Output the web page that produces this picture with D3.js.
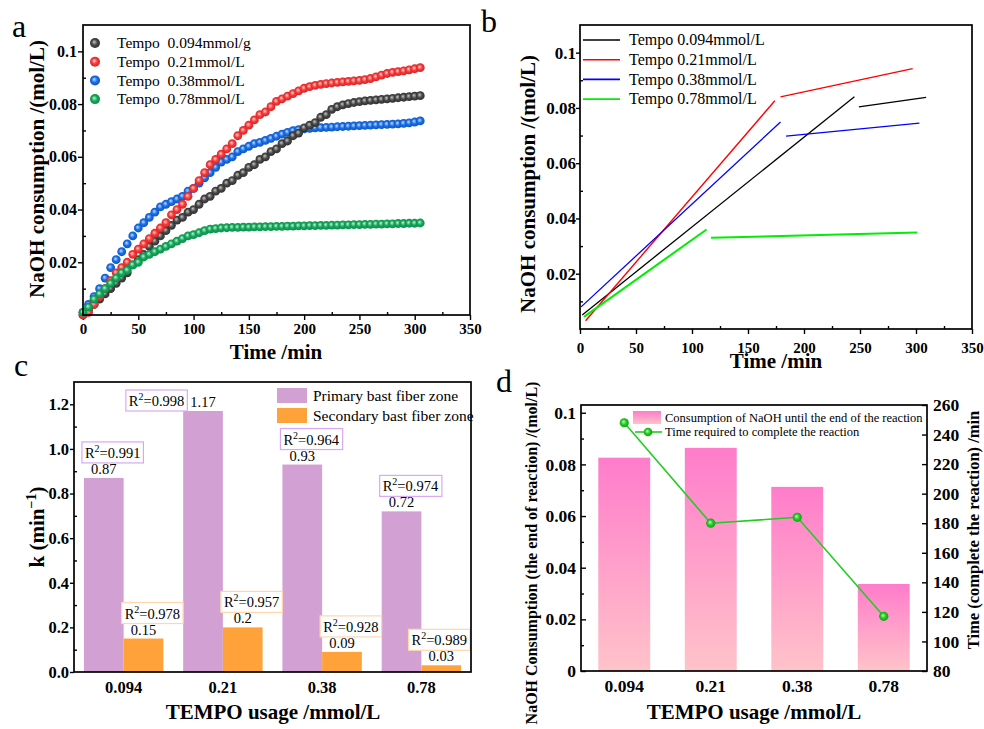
<!DOCTYPE html>
<html lang="en">
<head>
<meta charset="UTF-8">
<title>NaOH consumption</title>
<style>
  body { margin: 0; background: #fff; }
  svg { display: block; font-family: "Liberation Serif", "Times New Roman", serif; }
  .tick text { font-weight: bold; fill: #000; }
  .tick line { stroke: #000; stroke-width: 1.4; }
</style>
</head>
<body>
<svg width="984" height="729"></svg>
<script src="https://cdn.jsdelivr.net/npm/d3@7"></script>
<script>
// ---- panel a: measured NaOH consumption, one value every 5 min ----
const timeA = [0,5,10,15,20,25,30,35,40,45,50,55,60,65,70,75,80,85,90,95,
  100,105,110,115,120,125,130,135,140,145,150,155,160,165,170,175,180,185,190,195,
  200,205,210,215,220,225,230,235,240,245,250,255,260,265,270,275,280,285,290,295,300,305];
const blackA = [0.000,0.002,0.004,0.006,0.008,0.010,0.012,0.014,0.016,0.019,
  0.021,0.023,0.026,0.028,0.030,0.032,0.034,0.036,0.037,0.039,
  0.040,0.042,0.044,0.045,0.047,0.048,0.050,0.051,0.053,0.054,
  0.056,0.057,0.059,0.060,0.062,0.063,0.065,0.066,0.068,0.069,
  0.071,0.072,0.073,0.075,0.076,0.078,0.0790,0.0797,0.0802,0.0806,
  0.0809,0.0812,0.0814,0.0816,0.0818,0.0820,0.0822,0.0824,0.0826,0.0828,0.0830,0.0832];
const redA = [0.000,0.001,0.004,0.007,0.010,0.013,0.016,0.018,0.020,0.023,
  0.025,0.027,0.029,0.031,0.033,0.035,0.038,0.040,0.042,0.045,
  0.048,0.051,0.054,0.057,0.059,0.061,0.063,0.065,0.068,0.070,
  0.072,0.074,0.076,0.077,0.079,0.081,0.082,0.083,0.084,0.085,
  0.0860,0.0866,0.0871,0.0875,0.0878,0.0880,0.0882,0.0884,0.0886,0.0888,
  0.0890,0.0893,0.0897,0.0903,0.0910,0.0916,0.0920,0.0923,0.0926,0.0930,0.0934,0.0938];
const blueA = [0.001,0.004,0.007,0.010,0.014,0.018,0.021,0.024,0.027,0.030,
  0.033,0.035,0.037,0.039,0.041,0.042,0.043,0.044,0.045,0.047,
  0.048,0.050,0.052,0.054,0.056,0.058,0.059,0.060,0.062,0.063,
  0.0640,0.0650,0.0655,0.0662,0.0670,0.0678,0.0686,0.0693,0.0699,0.0703,
  0.0706,0.0708,0.0710,0.0711,0.0712,0.0713,0.0714,0.0715,0.0716,0.0717,
  0.0718,0.0719,0.0720,0.0721,0.0722,0.0723,0.0724,0.0725,0.0727,0.0729,0.0732,0.0736];
const greenA = [0.001,0.003,0.006,0.008,0.010,0.012,0.014,0.016,0.017,0.019,
  0.020,0.022,0.023,0.024,0.025,0.026,0.027,0.028,0.029,0.030,
  0.0305,0.0312,0.0320,0.0326,0.0328,0.0330,0.0331,0.0332,0.0332,0.0333,
  0.0333,0.0334,0.0334,0.0335,0.0335,0.0336,0.0336,0.0337,0.0337,0.0338,
  0.0338,0.0339,0.0339,0.0340,0.0340,0.0341,0.0341,0.0342,0.0342,0.0343,
  0.0343,0.0344,0.0344,0.0345,0.0345,0.0346,0.0346,0.0347,0.0347,0.0348,0.0348,0.0349];
const legendA = ["Tempo  0.094mmol/g", "Tempo  0.21mmol/L", "Tempo  0.38mmol/L", "Tempo  0.78mmol/L"];

// ---- panel b: two fitted segments per run, [time, NaOH] end points ----
const fitBlack = [[[2, 0.0051], [245, 0.0840]], [[249, 0.0804], [309, 0.0838]]];
const fitRed   = [[[5, 0.0030], [174, 0.0826]], [[179, 0.0840], [297, 0.0942]]];
const fitBlue  = [[[1, 0.0080], [179, 0.0749]], [[184, 0.0698], [303, 0.0745]]];
const fitGreen = [[[3.5, 0.0044], [113, 0.0360]], [[117, 0.0330], [301, 0.0349]]];
const legendB = ["Tempo 0.094mmol/L", "Tempo 0.21mmol/L", "Tempo 0.38mmol/L", "Tempo 0.78mmol/L"];

// ---- panel c: rate constants ----
const tempo = ["0.094", "0.21", "0.38", "0.78"];
const primaryK = [0.87, 1.17, 0.93, 0.72];
const secondaryK = [0.15, 0.2, 0.09, 0.03];
const primaryR2 = ["0.991", "0.998", "0.964", "0.974"];
const secondaryR2 = ["0.978", "0.957", "0.928", "0.989"];

// ---- panel d: end of reaction ----
const consumption = [0.0826, 0.0864, 0.0713, 0.0337];
const finishTime = [248, 180, 184, 117];

// tick values
const ticksTime = [0, 50, 100, 150, 200, 250, 300, 350];
const minorTime = [25, 75, 125, 175, 225, 275, 325];
const ticksNaOH = [0.02, 0.04, 0.06, 0.08, 0.1];
const minorNaOH = [0.01, 0.03, 0.05, 0.07, 0.09];
const ticksK = [0, 0.2, 0.4, 0.6, 0.8, 1.0, 1.2];
const minorK = [0.1, 0.3, 0.5, 0.7, 0.9, 1.1];
const ticksD = [0, 0.02, 0.04, 0.06, 0.08, 0.1];
const minorD = [0.01, 0.03, 0.05, 0.07, 0.09];
const ticksMin = [80, 100, 120, 140, 160, 180, 200, 220, 240, 260];

const svg = d3.select("svg");
const defs = svg.append("defs");
const naohFmt = v => v === 0 ? "0" : (v === 0.1 ? "0.1" : d3.format(".2f")(v));

function sphere(id, light, main, dark) {
  const g = defs.append("radialGradient").attr("id", id)
    .attr("cx", "50%").attr("cy", "50%").attr("r", "55%")
    .attr("fx", "40%").attr("fy", "38%");
  g.append("stop").attr("offset", "0%").attr("stop-color", light);
  g.append("stop").attr("offset", "50%").attr("stop-color", main);
  g.append("stop").attr("offset", "100%").attr("stop-color", dark);
}
sphere("sBlack", "#c8c8c8", "#4a4a4a", "#2a2a2a");
sphere("sRed", "#ffd0d0", "#f43c3c", "#d81c1c");
sphere("sBlue", "#c4dcff", "#1a6fe6", "#0a50c0");
sphere("sGreen", "#c6f2d8", "#14a85c", "#0a8a44");
sphere("sLime", "#b8ffb8", "#22cc22", "#109a10");

const pink = defs.append("linearGradient").attr("id", "pink")
  .attr("x1", 0).attr("y1", 0).attr("x2", 0).attr("y2", 1);
pink.append("stop").attr("offset", "0%").attr("stop-color", "#ff7ccb");
pink.append("stop").attr("offset", "100%").attr("stop-color", "#ffc3c9");

// axis helper: outward or inward ticks, no domain line (frame drawn apart)
function axis(gen, pos, vals, fmt, size, pad, font) {
  const g = svg.append("g").attr("transform", pos)
    .call(gen.tickValues(vals).tickFormat(fmt).tickSize(size).tickPadding(pad).tickSizeOuter(0));
  g.attr("font-family", null).attr("font-size", null);
  g.select(".domain").remove();
  g.selectAll("text").style("font-size", font + "px");
  return g;
}
function frame(x0, x1, y0, y1) {
  svg.append("rect").attr("x", x0).attr("y", y1).attr("width", x1 - x0).attr("height", y0 - y1)
    .attr("fill", "none").attr("stroke", "#000").attr("stroke-width", 1.7);
}
function label(txt, x, y, size, rot, weight) {
  return svg.append("text").attr("transform", `translate(${x},${y}) rotate(${rot || 0})`)
    .attr("text-anchor", "middle").attr("dy", "0.35em")
    .style("font-size", size + "px").style("font-weight", weight || "bold").text(txt);
}
function panelLetter(txt, x, y) {
  svg.append("text").attr("x", x).attr("y", y).style("font-size", "32px").text(txt);
}

// =================== a ===================
const xA = d3.scaleLinear().domain([0, 350]).range([83, 470]);
const yA = d3.scaleLinear().domain([0, 0.11]).range([315, 25]);
axis(d3.axisBottom(xA), "translate(0,315)", ticksTime, d3.format("d"), 5, 3, 15);
axis(d3.axisBottom(xA), "translate(0,315)", minorTime, "", -3, 0, 1);
axis(d3.axisLeft(yA), "translate(83,0)", ticksNaOH, naohFmt, 5, 1, 16);
axis(d3.axisLeft(yA), "translate(83,0)", minorNaOH, "", -3, 0, 1);

const seriesA = [
  { vals: blueA, fill: "url(#sBlue)" },
  { vals: blackA, fill: "url(#sBlack)" },
  { vals: redA, fill: "url(#sRed)" },
  { vals: greenA, fill: "url(#sGreen)" }
];
seriesA.forEach(s => {
  svg.append("g").selectAll("circle")
    .data(timeA.map((t, i) => [t, s.vals[i]]))
    .join("circle")
    .attr("cx", d => xA(d[0])).attr("cy", d => yA(d[1]))
    .attr("r", 4.4).attr("fill", s.fill);
});
frame(83, 470, 315, 25);

const legFillA = ["url(#sBlack)", "url(#sRed)", "url(#sBlue)", "url(#sGreen)"];
legendA.forEach((t, i) => {
  const yy = 43 + i * 18.7;
  svg.append("circle").attr("cx", 95).attr("cy", yy).attr("r", 5).attr("fill", legFillA[i]);
  svg.append("text").attr("x", 117).attr("y", yy).attr("dy", "0.33em")
    .style("font-size", "15.5px").style("white-space", "pre").text(t);
});
label("Time /min", 276, 352, 21);
label("NaOH consumption /(mol/L)", 37, 169, 21, -90);
panelLetter("a", 12, 37);

// =================== b ===================
const xB = d3.scaleLinear().domain([0, 350]).range([580, 972]);
const yB = d3.scaleLinear().domain([0, 0.11]).range([329, 25]);
axis(d3.axisBottom(xB), "translate(0,329)", ticksTime, d3.format("d"), 5, 8, 15);
axis(d3.axisBottom(xB), "translate(0,329)", minorTime, "", -3, 0, 1);
axis(d3.axisLeft(yB), "translate(580,0)", ticksNaOH, naohFmt, 4, 0, 17);
axis(d3.axisLeft(yB), "translate(580,0)", minorNaOH, "", -3, 0, 1);

const lineB = d3.line().x(d => xB(d[0])).y(d => yB(d[1]));
const fitsB = [
  { segs: fitBlack, color: "#000000", w: 1.3 },
  { segs: fitRed, color: "#ff0000", w: 1.4 },
  { segs: fitBlue, color: "#0000ff", w: 1.3 },
  { segs: fitGreen, color: "#00ee00", w: 2 }
];
fitsB.forEach(f => {
  svg.append("g").selectAll("path").data(f.segs).join("path")
    .attr("d", lineB).attr("fill", "none")
    .attr("stroke", f.color).attr("stroke-width", f.w);
});
frame(580, 972, 329, 25);

legendB.forEach((t, i) => {
  const yy = 40 + i * 19.7;
  svg.append("line").attr("x1", 583).attr("x2", 620).attr("y1", yy).attr("y2", yy)
    .attr("stroke", fitsB[i].color).attr("stroke-width", 1.6);
  svg.append("text").attr("x", 629).attr("y", yy).attr("dy", "0.33em")
    .style("font-size", "16px").text(t);
});
label("Time /min", 776, 361, 21);
label("NaOH consumption /(mol/L)", 528, 184, 21, -90);
panelLetter("b", 481, 32);

// =================== c ===================
const purple = "#d3a0d3", orange = "#ffa23a";
const xC = d3.scaleBand().domain(tempo).range([74, 471]).paddingInner(0.2).paddingOuter(0.1);
const xC1 = d3.scaleBand().domain(["p", "s"]).range([0, xC.bandwidth()]);
const yC = d3.scaleLinear().domain([0, 1.3]).range([672, 382]);

axis(d3.axisBottom(xC), "translate(0,672)", tempo, d => d, 0, 9, 16.5);
axis(d3.axisLeft(yC), "translate(74,0)", ticksK, d3.format(".1f"), 4, 1, 16.5);
axis(d3.axisLeft(yC), "translate(74,0)", minorK, "", -3, 0, 1);

const barsC = tempo.map((c, i) => [
  { c, key: "p", v: primaryK[i], r2: primaryR2[i], col: purple, box: "#d9a8f5" },
  { c, key: "s", v: secondaryK[i], r2: secondaryR2[i], col: orange, box: "#ffd6ae" }
]).flat();

svg.append("g").selectAll("rect").data(barsC).join("rect")
  .attr("x", d => xC(d.c) + xC1(d.key)).attr("width", xC1.bandwidth())
  .attr("y", d => yC(d.v)).attr("height", d => yC(0) - yC(d.v))
  .attr("fill", d => d.col);

barsC.forEach(d => {
  const left = xC(d.c) + xC1(d.key), cx = left + xC1.bandwidth() / 2, top = yC(d.v);
  const val = svg.append("text").attr("x", cx).attr("y", top - 4).attr("text-anchor", "middle")
    .style("font-size", "14.5px").text(d3.format("")(d.v));
  const g = svg.append("g");
  const rect = g.append("rect").attr("fill", "#fff").attr("stroke", d.box).attr("stroke-width", 1.2);
  const t = g.append("text").style("font-size", "14.5px");
  t.append("tspan").text("R");
  t.append("tspan").attr("dy", -6).style("font-size", "10px").text("2");
  t.append("tspan").attr("dy", 6).text("=" + d.r2);
  const w = t.node().getBBox().width + 6, h = 21;
  let bx = left - 2, by = top - 15 - h;
  if (by < yC.range()[1]) {          // no room above: sit left of the value
    bx = val.node().getBBox().x - 3 - w;
    by = top - h;
  }
  bx = Math.min(bx, xC.range()[1] - w - 1);   // keep inside the frame
  rect.attr("x", bx).attr("y", by).attr("width", w).attr("height", h);
  t.attr("x", bx + 3).attr("y", by + 16);
});
frame(74, 471, 672, 382);

[["Primary bast fiber zone", purple], ["Secondary bast fiber zone", orange]].forEach(([txt, col], i) => {
  svg.append("rect").attr("x", 277).attr("y", 388 + i * 20).attr("width", 30).attr("height", 15).attr("fill", col);
  svg.append("text").attr("x", 313).attr("y", 396 + i * 20).attr("dy", "0.33em")
    .style("font-size", "15.5px").text(txt);
});
const kLab = svg.append("text").attr("transform", "translate(37,527) rotate(-90)")
  .attr("text-anchor", "middle").attr("dy", "0.35em")
  .style("font-size", "21px").style("font-weight", "bold");
kLab.append("tspan").text("k (min");
kLab.append("tspan").attr("dy", -8).style("font-size", "14px").text("\u22121");
kLab.append("tspan").attr("dy", 8).text(")");
label("TEMPO usage /mmol/L", 273, 712, 21);
panelLetter("c", 14, 376);

// =================== d ===================
const xD = d3.scaleBand().domain(tempo).range([581, 927]).paddingInner(0.4).paddingOuter(0.2);
const yD = d3.scaleLinear().domain([0, 0.103]).range([671, 405]);
const yD2 = d3.scaleLinear().domain([80, 260]).range([671, 405]);

axis(d3.axisBottom(xD), "translate(0,671)", tempo, d => d, 0, 9, 17.5);
axis(d3.axisLeft(yD), "translate(581,0)", ticksD, naohFmt, -5, 5, 17.5);
axis(d3.axisLeft(yD), "translate(581,0)", minorD, "", -3, 0, 1);
axis(d3.axisRight(yD2), "translate(927,0)", ticksMin, d3.format("d"), -5, 6, 17.5);

svg.append("g").selectAll("rect").data(tempo).join("rect")
  .attr("x", d => xD(d)).attr("width", xD.bandwidth())
  .attr("y", (d, i) => yD(consumption[i])).attr("height", (d, i) => yD(0) - yD(consumption[i]))
  .attr("fill", "url(#pink)");

const ptsD = tempo.map((c, i) => [xD(c) + xD.bandwidth() / 2, yD2(finishTime[i])]);
svg.append("path").attr("d", d3.line()(ptsD)).attr("fill", "none")
  .attr("stroke", "#22cc22").attr("stroke-width", 1.6);
svg.append("g").selectAll("circle").data(ptsD).join("circle")
  .attr("cx", d => d[0]).attr("cy", d => d[1]).attr("r", 4.6).attr("fill", "url(#sLime)");
frame(581, 927, 671, 405);

svg.append("rect").attr("x", 633).attr("y", 411).attr("width", 28).attr("height", 13).attr("fill", "url(#pink)");
svg.append("text").attr("x", 665).attr("y", 418).attr("dy", "0.33em").style("font-size", "12.5px")
  .text("Consumption of NaOH until the end of the reaction");
svg.append("line").attr("x1", 635).attr("x2", 662).attr("y1", 432).attr("y2", 432)
  .attr("stroke", "#22cc22").attr("stroke-width", 1.6);
svg.append("circle").attr("cx", 648).attr("cy", 432).attr("r", 4.3).attr("fill", "url(#sLime)");
svg.append("text").attr("x", 665).attr("y", 432).attr("dy", "0.33em").style("font-size", "12.5px")
  .text("Time required to complete the reaction");

label("NaOH Consumption (the end of reaction) /(mol/L)", 531, 553, 16, -90);
label("Time (complete the reaction) /min", 973, 530, 16.5, -90);
label("TEMPO usage /mmol/L", 754, 712, 21);
panelLetter("d", 496, 392);
</script>
</body>
</html>
